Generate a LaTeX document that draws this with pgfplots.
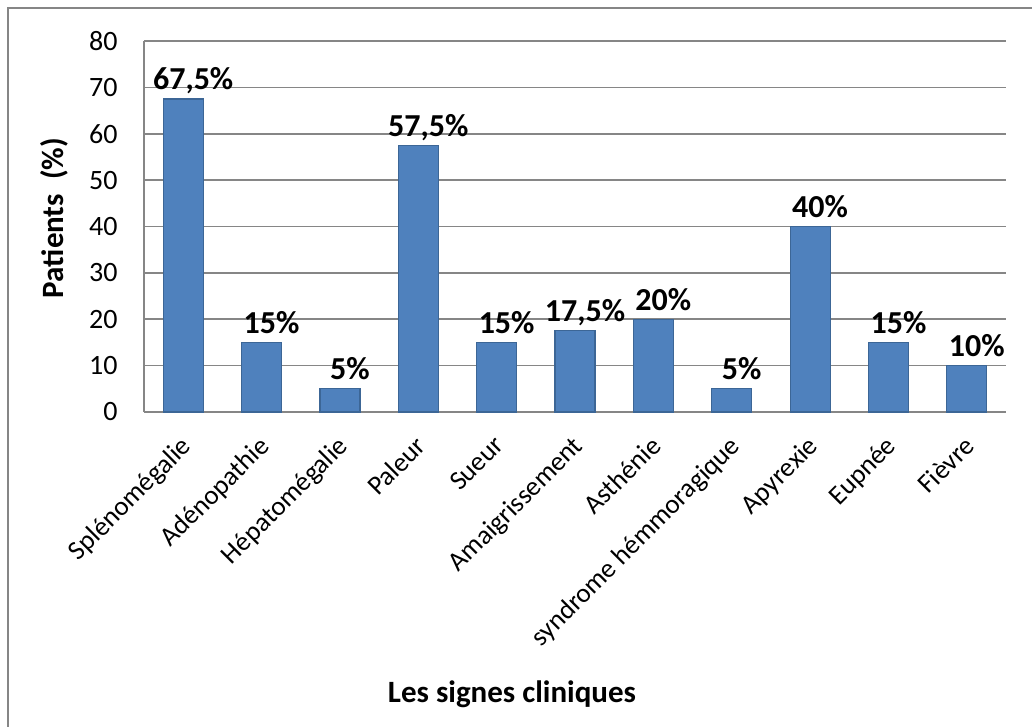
\documentclass[border=0pt]{standalone}
\usepackage{fontspec}
\setmainfont{Carlito}
\usepackage{pgfplots}
\pgfplotsset{compat=1.18}
\usepackage{pgfplotstable}

\definecolor{barblue}{HTML}{4F81BD}
\definecolor{baredge}{HTML}{3C6696}
\definecolor{gridgray}{HTML}{868686}

% index, value (%)
\pgfplotstableread{
x y
0 67.5
1 15
2 5
3 57.5
4 15
5 17.5
6 20
7 5
8 40
9 15
10 10
}\signes

\begin{document}
\begin{tikzpicture}
% 1px of the reference = 0.5pt
\path[use as bounding box] (0pt,0pt) rectangle (516pt,-363.5pt);
\draw[gridgray, line width=0.8pt] (4pt,-363.5pt) -- (4pt,-4pt) -- (516pt,-4pt);

\begin{axis}[
    at={(72pt,-206pt)}, anchor=south west,
    scale only axis,
    width=431pt, height=185.5pt,
    xmin=-0.5, xmax=10.5,
    ymin=0, ymax=80,
    ytick={0,10,...,80},
    xtick=data,
    xticklabels={Splénomégalie, Adénopathie, Hépatomégalie, Paleur, Sueur,
        Amaigrissement, Asthénie, syndrome hémmoragique, Apyrexie, Eupnée, Fièvre},
    axis x line*=bottom, axis y line*=left,
    axis line style={draw=gridgray, line width=0.8pt, -},
    major tick length=0pt,
    ymajorgrids=true,
    grid style={gridgray, line width=0.8pt},
    /pgf/number format/assume math mode=true,
    yticklabel style={anchor=east, inner sep=0pt, xshift=-13pt, font=\fontsize{14}{16}\selectfont},
    xticklabel style={yshift=-11pt, xshift=-2pt, rotate=45, anchor=north east, inner sep=0pt, font=\fontsize{13.5}{16}\selectfont},
    ybar, bar width=20pt,
    clip=false,
]
\addplot[fill=barblue, draw=baredge, line width=0.6pt,
    nodes near coords={\pgfmathprintnumber[use comma]{\pgfplotspointmeta}\%},
    every node near coord/.append style={font=\bfseries\fontsize{16}{18}\selectfont,
        anchor=base, inner sep=0pt, yshift=4.5pt, xshift=5pt,
        /pgf/number format/assume math mode=true},
] table[x=x, y=y] {\signes};
\end{axis}

\node[rotate=90, anchor=base, font=\bfseries\fontsize{15.5}{18}\selectfont] at (31.5pt,-109pt) {Patients\ \ (\%)};
\node[anchor=base, font=\bfseries\fontsize{15.5}{18}\selectfont] at (256pt,-351pt) {Les signes cliniques};
\end{tikzpicture}
\end{document}
